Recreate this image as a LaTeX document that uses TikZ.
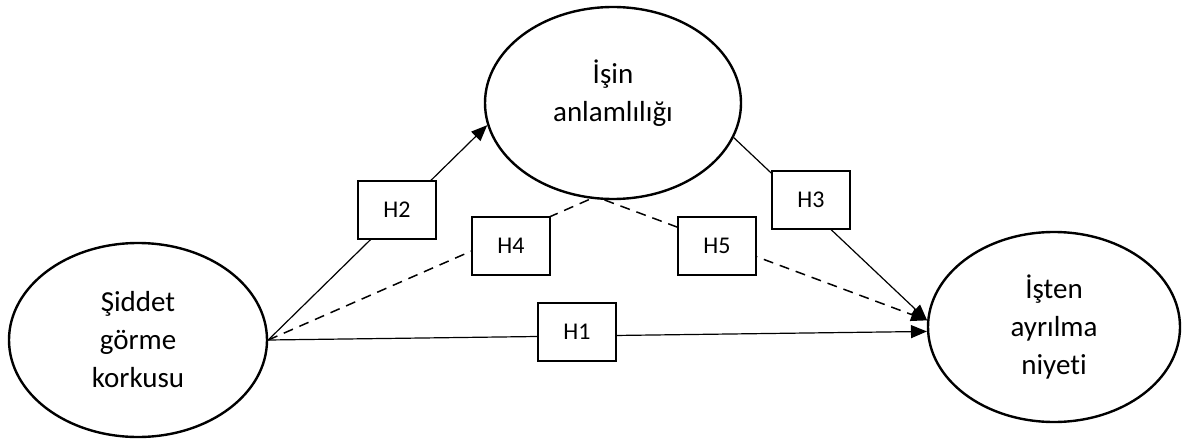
\documentclass[tikz,border=0pt]{standalone}
\usepackage{fontspec}
\setmainfont[Ligatures={NoCommon}]{Carlito}
\usetikzlibrary{shapes.geometric,arrows.meta}
\begin{document}
\begin{tikzpicture}[x=1pt,y=-1pt,
  construct/.style={ellipse,draw,line width=2.4pt,inner sep=0pt,align=center,
    font=\fontsize{29}{38}\selectfont},
  hbox/.style={rectangle,draw,line width=1.4pt,fill=white,minimum width=78pt,
    minimum height=58pt,inner sep=0pt,font=\fontsize{24}{28}\selectfont},
  link/.style={line width=1.2pt},
  dlink/.style={line width=1.5pt,dash pattern=on 10pt off 7pt},
  tip/.style={-{Triangle[length=16pt,width=13pt]}}]
\useasboundingbox (0,0) rectangle (1182,441);
\node[construct,minimum width=258pt,minimum height=194pt] (L) at (138,340) {Şiddet\\görme\\korkusu};
\node[construct,minimum width=256pt,minimum height=192pt,text depth=25pt] (T) at (613,103) {İşin\\anlamlılığı};
\node[construct,minimum width=252pt,minimum height=190pt] (R) at (1054,327) {İşten\\ayrılma\\niyeti};
\draw[link,tip] (L.east) -- (T.190);
\draw[dlink] (L.east) -- (T.257);
\draw[link,tip] (L.east) -- (R.182);
\draw[dlink,tip] (T.265) -- (R.177);
\draw[link,tip] (T.-16) -- (R.177);
\node[hbox] (H2) at (397,210) {H2};
\node[hbox] (H4) at (511,246) {H4};
\node[hbox] (H1) at (577,332) {H1};
\node[hbox] (H3) at (811,200) {H3};
\node[hbox] (H5) at (717,246) {H5};
\end{tikzpicture}
\end{document}
